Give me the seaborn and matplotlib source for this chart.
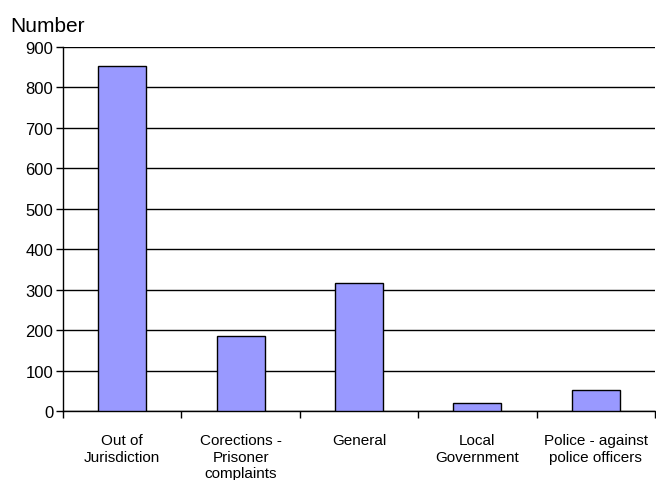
import matplotlib
matplotlib.use("Agg")
import matplotlib.pyplot as plt
import seaborn as sns
import pandas as pd
import numpy as np

categories = ["Out of\nJurisdiction", "Corections -\nPrisoner\ncomplaints", "General",
              "Local\nGovernment", "Police - against\npolice officers"]
counts = [853, 185, 316, 20, 53]
y_ticks = [0, 100, 200, 300, 400, 500, 600, 700, 800, 900]

sns.set_theme(style="white")
plt.rcParams["font.family"] = ["Liberation Sans", "DejaVu Sans"]
plt.rcParams["text.color"] = "black"
plt.rcParams["xtick.color"] = "black"
plt.rcParams["ytick.color"] = "black"

df = pd.DataFrame({"category": categories, "count": counts})

fig = plt.figure(figsize=(6.56, 4.81), dpi=100)
ax = fig.add_axes([63 / 656, 1 - 412 / 481, (655 - 63) / 656, (412 - 48) / 481])

sns.barplot(data=df, x="category", y="count", color="#9999FF", saturation=1,
            width=0.405, edgecolor="black", linewidth=1.0, ax=ax, zorder=3)

ax.set_ylim(0, 900)
ax.set_xlim(-0.5, len(categories) - 0.5)
ax.set_yticks(y_ticks)
ax.set_yticklabels([str(v) for v in y_ticks], fontsize=12)
ax.yaxis.grid(True, color="black", linewidth=1.0, zorder=0)
ax.set_axisbelow(True)

ax.set_xticks(range(len(categories)))
ax.set_xticklabels(categories, fontsize=11, linespacing=1.22, va="top")
ax.tick_params(axis="x", which="major", length=0, pad=16)
ax.set_xticks(np.arange(-0.5, len(categories)), minor=True)
ax.tick_params(axis="x", which="minor", length=5, width=1, color="black", direction="out", bottom=True)
ax.tick_params(axis="y", length=5, width=1, color="black", direction="out", left=True, pad=2)

for side in ["top", "right"]:
    ax.spines[side].set_visible(False)
for side in ["left", "bottom"]:
    ax.spines[side].set_color("black")
    ax.spines[side].set_linewidth(1.0)

ax.set_xlabel("")
ax.set_ylabel("")
fig.text(10 / 656, 1 - 32 / 481, "Number", fontsize=15, ha="left", va="baseline")

fig.savefig("out.png", dpi=100, facecolor="white")
